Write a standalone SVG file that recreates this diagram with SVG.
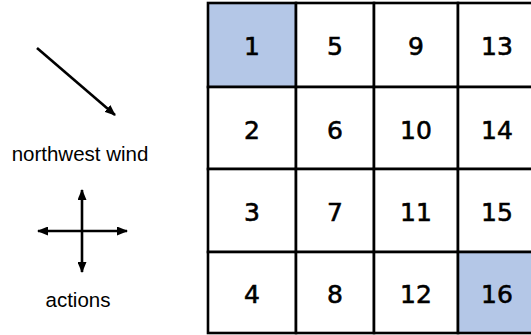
<svg xmlns="http://www.w3.org/2000/svg" width="531" height="335" viewBox="0 0 531 335">
<defs>
<style>
.cell{fill:#ffffff;stroke:#000000;stroke-width:2.6}
.hl{fill:#b4c7e7}
.num{font-family:"DejaVu Sans","Liberation Sans",sans-serif;font-size:25px;fill:#000;stroke:#000;stroke-width:0.6;text-anchor:middle}
.lbl{font-family:"Liberation Sans",Arial,sans-serif;font-size:20.5px;fill:#000;text-anchor:middle}
.arr{stroke:#000;stroke-width:2.6;fill:none}
</style>
<marker id="ah" markerUnits="userSpaceOnUse" markerWidth="11" markerHeight="9" refX="10" refY="4.5" orient="auto-start-reverse" viewBox="0 0 11 9">
<path d="M0,0 L11,4.5 L0,9 z" fill="#000"/>
</marker>
</defs>
<rect width="531" height="335" fill="#ffffff"/>
<g id="connectors">
<line class="arr" x1="37" y1="48" x2="115" y2="115" marker-end="url(#ah)"/>
<line class="arr" x1="82" y1="190" x2="82" y2="272" marker-start="url(#ah)" marker-end="url(#ah)"/>
<line class="arr" x1="38" y1="231" x2="127" y2="231" marker-start="url(#ah)" marker-end="url(#ah)"/>
</g>
<g id="label-wind"><text class="lbl" x="80" y="161">northwest wind</text></g>
<g id="label-actions"><text class="lbl" x="78" y="307">actions</text></g>
<g id="cell-1"><rect class="cell hl" x="208" y="3" width="88" height="84"/><text class="num" x="252" y="55">1</text></g>
<g id="cell-2"><rect class="cell" x="208" y="87" width="88" height="82"/><text class="num" x="252" y="138.5">2</text></g>
<g id="cell-3"><rect class="cell" x="208" y="169" width="88" height="83"/><text class="num" x="252" y="220.5">3</text></g>
<g id="cell-4"><rect class="cell" x="208" y="252" width="88" height="81"/><text class="num" x="252" y="302.5">4</text></g>
<g id="cell-5"><rect class="cell" x="296" y="3" width="78" height="84"/><text class="num" x="335" y="55">5</text></g>
<g id="cell-6"><rect class="cell" x="296" y="87" width="78" height="82"/><text class="num" x="335" y="138.5">6</text></g>
<g id="cell-7"><rect class="cell" x="296" y="169" width="78" height="83"/><text class="num" x="335" y="220.5">7</text></g>
<g id="cell-8"><rect class="cell" x="296" y="252" width="78" height="81"/><text class="num" x="335" y="302.5">8</text></g>
<g id="cell-9"><rect class="cell" x="374" y="3" width="84" height="84"/><text class="num" x="416" y="55">9</text></g>
<g id="cell-10"><rect class="cell" x="374" y="87" width="84" height="82"/><text class="num" x="416" y="138.5">10</text></g>
<g id="cell-11"><rect class="cell" x="374" y="169" width="84" height="83"/><text class="num" x="416" y="220.5">11</text></g>
<g id="cell-12"><rect class="cell" x="374" y="252" width="84" height="81"/><text class="num" x="416" y="302.5">12</text></g>
<g id="cell-13"><rect class="cell" x="458" y="3" width="80" height="84"/><text class="num" x="497" y="55">13</text></g>
<g id="cell-14"><rect class="cell" x="458" y="87" width="80" height="82"/><text class="num" x="497" y="138.5">14</text></g>
<g id="cell-15"><rect class="cell" x="458" y="169" width="80" height="83"/><text class="num" x="497" y="220.5">15</text></g>
<g id="cell-16"><rect class="cell hl" x="458" y="252" width="80" height="81"/><text class="num" x="497" y="302.5">16</text></g>
</svg>
